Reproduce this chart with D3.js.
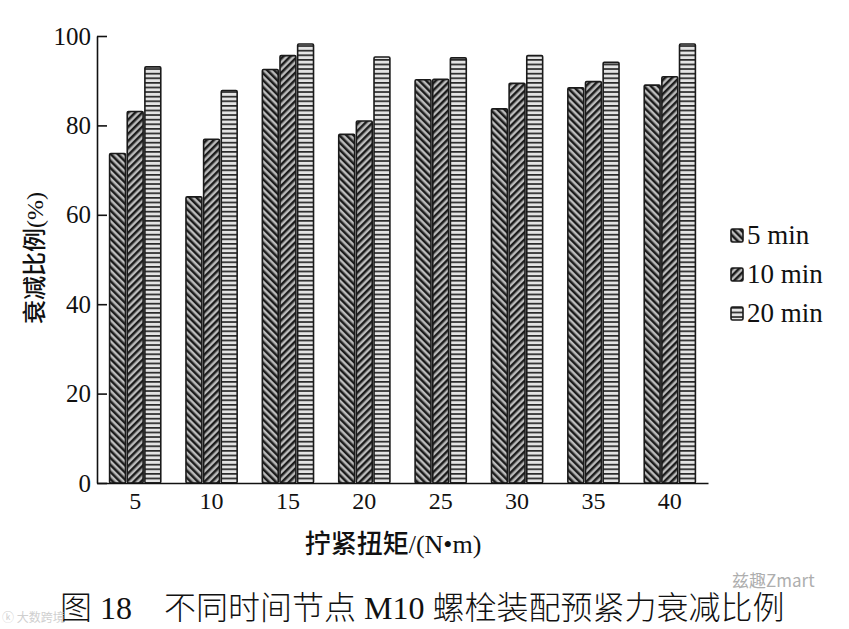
<!DOCTYPE html>
<html>
<head>
<meta charset="utf-8">
<script src="https://cdn.jsdelivr.net/npm/d3@7"></script>
<style>
  body { margin: 0; background: #fff; }
  svg text { fill: #111; }
</style>
</head>
<body>
<svg id="chart" width="849" height="629"></svg>
<script>
// torque values (N·m) on the x axis
const torques = ["5", "10", "15", "20", "25", "30", "35", "40"];
const seriesNames = ["5 min", "10 min", "20 min"];
// attenuation ratio (%)
const min5 = [73.7, 64.0, 92.5, 78.0, 90.2, 83.7, 88.4, 89.0];
const min10 = [83.1, 76.9, 95.6, 81.0, 90.3, 89.4, 89.8, 90.9];
const min20 = [93.1, 87.8, 98.2, 95.3, 95.1, 95.6, 94.1, 98.2];
const yTicks = [0, 20, 40, 60, 80, 100];

const series = [min5, min10, min20];
const patternIds = ["pat-back", "pat-fwd", "pat-horiz"];

const svg = d3.select("#chart");
const margin = {left: 97, right: 141, top: 36, bottom: 146};
const width = 849 - margin.left - margin.right;
const height = 629 - margin.top - margin.bottom;

// hatch patterns
const defs = svg.append("defs");
function hatch(id, angle) {
    const p = defs.append("pattern")
        .attr("id", id)
        .attr("patternUnits", "userSpaceOnUse")
        .attr("width", 5).attr("height", 5)
        .attr("patternTransform", "rotate(" + angle + ")");
    p.append("rect").attr("width", 5).attr("height", 5).attr("fill", "#bcbcbc");
    p.append("rect").attr("width", 2.5).attr("height", 5).attr("fill", "#1c1c1c");
}
hatch("pat-back", -45);
hatch("pat-fwd", 45);
const ph = defs.append("pattern")
    .attr("id", "pat-horiz")
    .attr("patternUnits", "userSpaceOnUse")
    .attr("width", 5).attr("height", 4.6);
ph.append("rect").attr("width", 5).attr("height", 4.6).attr("fill", "#e4e4e4");
ph.append("rect").attr("width", 5).attr("height", 1.7).attr("fill", "#2a2a2a");

const g = svg.append("g").attr("transform", `translate(${margin.left},${margin.top})`);

const x = d3.scaleBand().domain(torques).range([0, width]).paddingInner(0.33).paddingOuter(0.165);
const xs = d3.scaleBand().domain(d3.range(series.length)).range([0, x.bandwidth()]).paddingInner(0.1);
const y = d3.scaleLinear().domain([0, 100]).range([height, 0]);

// bars
series.forEach((vals, si) => {
    g.append("g").selectAll("rect")
        .data(vals)
        .join("rect")
        .attr("x", (d, i) => x(torques[i]) + xs(si))
        .attr("y", d => y(d))
        .attr("width", xs.bandwidth())
        .attr("height", d => y(0) - y(d))
        .attr("rx", 1.2)
        .attr("fill", "url(#" + patternIds[si] + ")")
        .attr("stroke", "#1a1a1a")
        .attr("stroke-width", 1.6);
});

// y axis, ticks pointing inward
const yAxis = g.append("g")
    .call(d3.axisLeft(y).tickValues(yTicks).tickSize(-10).tickPadding(6).tickSizeOuter(0));
yAxis.select(".domain").attr("stroke", "#111").attr("stroke-width", 1.6);
yAxis.selectAll(".tick line").attr("stroke", "#111").attr("stroke-width", 1.6);
yAxis.selectAll(".tick text")
    .attr("font-family", "Liberation Serif, serif")
    .attr("font-size", 25);

// x axis, no tick marks
const xAxis = g.append("g")
    .attr("transform", `translate(0,${height})`)
    .call(d3.axisBottom(x).tickSize(0).tickPadding(9).tickSizeOuter(0));
xAxis.select(".domain").attr("stroke", "#111").attr("stroke-width", 1.6);
xAxis.selectAll(".tick text")
    .attr("font-family", "Liberation Serif, serif")
    .attr("font-size", 24);

// axis titles
svg.append("text")
    .attr("transform", "translate(43,258) rotate(-90)")
    .attr("text-anchor", "middle")
    .attr("font-family", "Liberation Serif, Noto Sans CJK SC, serif")
    .attr("font-weight", 500)
    .attr("font-size", 24)
    .text("衰减比例(%)");

svg.append("text")
    .attr("x", 393)
    .attr("y", 553)
    .attr("text-anchor", "middle")
    .attr("font-family", "Liberation Serif, Noto Sans CJK SC, serif")
    .attr("font-weight", 500)
    .attr("font-size", 26)
    .text("拧紧扭矩/(N•m)");

// legend
const legend = svg.append("g").attr("transform", "translate(731,229)");
seriesNames.forEach((name, i) => {
    const row = legend.append("g").attr("transform", `translate(0,${i * 39})`);
    row.append("rect")
        .attr("width", 12).attr("height", 13).attr("rx", 1.5)
        .attr("fill", "url(#" + patternIds[i] + ")")
        .attr("stroke", "#1a1a1a").attr("stroke-width", 1.6);
    row.append("text")
        .attr("x", 16).attr("y", 15)
        .attr("font-family", "Liberation Serif, serif")
        .attr("font-size", 27)
        .text(name);
});

// caption
svg.append("text")
    .attr("x", 60)
    .attr("y", 619)
    .attr("font-family", "Liberation Serif, Noto Sans CJK SC, serif")
    .attr("font-weight", 300)
    .attr("font-size", 32)
    .attr("xml:space", "preserve")
    .text("图 18\u3000不同时间节点 M10 螺栓装配预紧力衰减比例");

// watermarks
svg.append("text")
    .attr("x", 2).attr("y", 622)
    .attr("font-family", "Noto Sans CJK SC, sans-serif")
    .attr("font-size", 12)
    .style("fill", "#cfcfcf")
    .text("ⓚ 大数跨境");
svg.append("text")
    .attr("x", 732).attr("y", 587)
    .attr("font-family", "Noto Sans CJK SC, sans-serif")
    .attr("font-size", 17)
    .style("fill", "#9a9a9a")
    .attr("opacity", 0.8)
    .text("兹趣Zmart");
</script>
</body>
</html>
